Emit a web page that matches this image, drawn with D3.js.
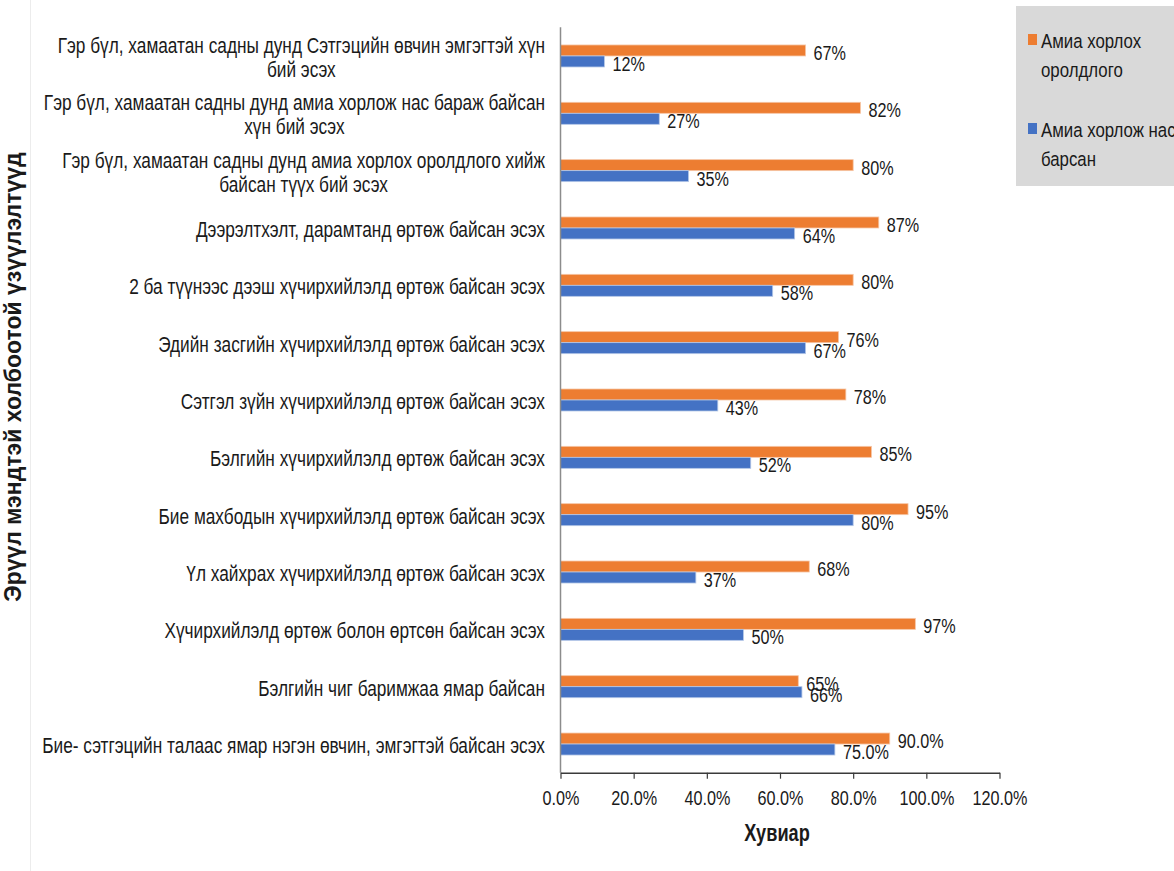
<!DOCTYPE html>
<html>
<head>
<meta charset="utf-8">
<script src="https://cdn.jsdelivr.net/npm/d3@7"></script>
<style>
  html, body { margin: 0; padding: 0; background: #ffffff; }
  svg { display: block; }
  .narrow { font-family: "Liberation Sans Narrow", "Arial Narrow", "Liberation Sans", Arial, sans-serif; }
</style>
</head>
<body>
<svg id="chart" width="1174" height="871"></svg>
<script>
// Category labels, one array of display lines per row (top to bottom)
const categories = [
  ["Гэр бүл, хамаатан садны дунд Сэтгэцийн өвчин эмгэгтэй хүн", "бий эсэх"],
  ["Гэр бүл, хамаатан садны дунд амиа хорлож нас бараж байсан", "хүн бий эсэх"],
  ["Гэр бүл, хамаатан садны дунд амиа хорлох оролдлого хийж", "байсан түүх бий эсэх"],
  ["Дээрэлтхэлт, дарамтанд өртөж байсан эсэх"],
  ["2 ба түүнээс дээш хүчирхийлэлд өртөж байсан эсэх"],
  ["Эдийн засгийн хүчирхийлэлд өртөж байсан эсэх"],
  ["Сэтгэл зүйн хүчирхийлэлд өртөж байсан эсэх"],
  ["Бэлгийн хүчирхийлэлд өртөж байсан эсэх"],
  ["Бие махбодын хүчирхийлэлд өртөж байсан эсэх"],
  ["Үл хайхрах хүчирхийлэлд өртөж байсан эсэх"],
  ["Хүчирхийлэлд өртөж болон өртсөн байсан эсэх"],
  ["Бэлгийн чиг баримжаа ямар байсан"],
  ["Бие- сэтгэцийн талаас ямар нэгэн өвчин, эмгэгтэй байсан эсэх"]
];

// Series (percent)
const seriesNames = ["Амиа хорлох оролдлого", "Амиа хорлож нас барсан"];
const attemptValues = [67, 82, 80, 87, 80, 76, 78, 85, 95, 68, 97, 65, 90.0];
const deathValues   = [12, 27, 35, 64, 58, 67, 43, 52, 80, 37, 50, 66, 75.0];
// Decimal places shown in each row's value labels
const labelDecimals = [0, 0, 0, 0, 0, 0, 0, 0, 0, 0, 0, 0, 1];

const seriesColors = ["#ED7D31", "#4472C4"];
const legendLines = [["Амиа хорлох", "оролдлого"], ["Амиа хорлож нас", "барсан"]];

// X axis ticks
const tickValues = [0, 20, 40, 60, 80, 100, 120];
const tickLabels = ["0.0%", "20.0%", "40.0%", "60.0%", "80.0%", "100.0%", "120.0%"];

const xTitle = "Хувиар";
const yTitle = "Эрүүл мэндтэй холбоотой үзүүлэлтүүд";

const svg = d3.select("#chart");
const FS = 20.5;
const NARROW = 0.79;   // horizontal condensing for the narrow face

// squeeze text horizontally when no narrow face is installed
function condense(sel, f) {
  sel.each(function () {
    const w = this.getComputedTextLength();
    this.setAttribute("textLength", (w * f).toFixed(2));
    this.setAttribute("lengthAdjust", "spacingAndGlyphs");
  });
}

// faint frame line at the left of the chart area
svg.append("line")
  .attr("x1", 30.5).attr("x2", 30.5).attr("y1", 0).attr("y2", 871)
  .attr("stroke", "#ececec").attr("stroke-width", 1);

const rowIdx = d3.range(categories.length);

const x = d3.scaleLinear().domain([0, 120]).range([560.5, 999.5]);
const y0 = d3.scaleBand().domain(rowIdx).range([27.3, 772.7]).padding(0);
const y1 = d3.scaleBand().domain([0, 1]).range([0, y0.bandwidth()])
  .paddingInner(0).paddingOuter(1.606);

const seriesValues = [attemptValues, deathValues];

// bars
const rows = svg.append("g").selectAll("g.row")
  .data(rowIdx).join("g")
  .attr("transform", i => `translate(0,${y0(i)})`);

rows.selectAll("rect")
  .data(i => [0, 1].map(s => ({ s, i, v: seriesValues[s][i] })))
  .join("rect")
  .attr("x", x(0))
  .attr("y", d => y1(d.s))
  .attr("width", d => x(d.v) - x(0))
  .attr("height", y1.bandwidth())
  .attr("fill", d => seriesColors[d.s])
  .attr("stroke", d => d.s === 0 ? "#f6c6a6" : "#b4c7e7")
  .attr("stroke-width", 0.8);

// value labels
const vals = rows.selectAll("text.val")
  .data(i => [0, 1].map(s => ({ s, i, v: seriesValues[s][i] })))
  .join("text")
  .attr("class", "val narrow")
  .attr("x", d => x(d.v) + 8)
  .attr("y", d => y1(d.s) + y1.bandwidth() / 2 + 2)
  .attr("dominant-baseline", "central")
  .attr("font-size", FS)
  .attr("fill", "#1a1a1a")
  .text(d => d.v.toFixed(labelDecimals[d.i]) + "%");
condense(vals, NARROW);

// category labels: lines centred within a block that is right-aligned to the axis
const labelRight = 545;
const lineH = 24;
const catG = svg.append("g").attr("class", "narrow").attr("font-size", 21.3).attr("fill", "#1a1a1a");
rowIdx.forEach(i => {
  const lines = categories[i];
  const cy = y0(i) + y0.bandwidth() / 2 + 2;
  const g = catG.append("g");
  const texts = g.selectAll("text").data(lines).join("text")
    .attr("y", (d, k) => cy + (k - (lines.length - 1) / 2) * lineH)
    .attr("dominant-baseline", "central")
    .text(d => d);
  condense(texts, 0.81);
  if (lines.length === 1) {
    texts.attr("x", labelRight).attr("text-anchor", "end");
  } else {
    let w = 0;
    texts.each(function () { w = Math.max(w, +this.getAttribute("textLength")); });
    texts.attr("x", labelRight - w / 2).attr("text-anchor", "middle");
  }
});

// vertical category axis line
svg.append("line")
  .attr("x1", x(0)).attr("x2", x(0))
  .attr("y1", y0.range()[0]).attr("y2", y0.range()[1])
  .attr("stroke", "#8c8c8c").attr("stroke-width", 1.5);

// bottom value axis
const xAxis = d3.axisBottom(x)
  .tickValues(tickValues)
  .tickFormat((d, k) => tickLabels[k])
  .tickSize(6)
  .tickSizeOuter(0)
  .tickPadding(12);

const axG = svg.append("g")
  .attr("transform", `translate(0,${y0.range()[1]})`)
  .call(xAxis);
axG.select(".domain").attr("stroke", "#3a3a3a").attr("stroke-width", 1.5);
axG.selectAll(".tick line").attr("stroke", "#3a3a3a").attr("stroke-width", 1.2);
const tickText = axG.selectAll(".tick text")
  .attr("class", "narrow")
  .attr("font-size", FS)
  .attr("fill", "#1a1a1a");
condense(tickText, NARROW);

// axis titles
const xt = svg.append("text")
  .attr("class", "narrow")
  .attr("x", 777).attr("y", 833)
  .attr("text-anchor", "middle").attr("dominant-baseline", "central")
  .attr("font-size", 23).attr("font-weight", "bold").attr("fill", "#1a1a1a")
  .text(xTitle);
condense(xt, NARROW);

svg.append("text")
  .attr("transform", "translate(13,377) rotate(-90)")
  .attr("text-anchor", "middle").attr("dominant-baseline", "central")
  .attr("font-family", "'Liberation Sans', Arial, sans-serif")
  .attr("font-size", 23).attr("font-weight", "bold").attr("fill", "#1a1a1a")
  .text(yTitle);

// legend
const lg = svg.append("g");
lg.append("rect")
  .attr("x", 1016).attr("y", 6).attr("width", 170).attr("height", 180)
  .attr("fill", "#d9d9d9");
const legendBase = [48, 137];
[0, 1].forEach(s => {
  lg.append("rect")
    .attr("x", 1028).attr("y", legendBase[s] - 14)
    .attr("width", 9).attr("height", 11)
    .attr("fill", seriesColors[s]);
  const tsp = lg.append("text")
    .attr("class", "narrow")
    .attr("font-size", FS).attr("fill", "#1a1a1a")
    .selectAll("tspan").data(legendLines[s]).join("tspan")
    .attr("x", 1041)
    .attr("y", (d, k) => legendBase[s] + k * 29)
    .text(d => d);
  condense(tsp, 0.82);
});
</script>
</body>
</html>
